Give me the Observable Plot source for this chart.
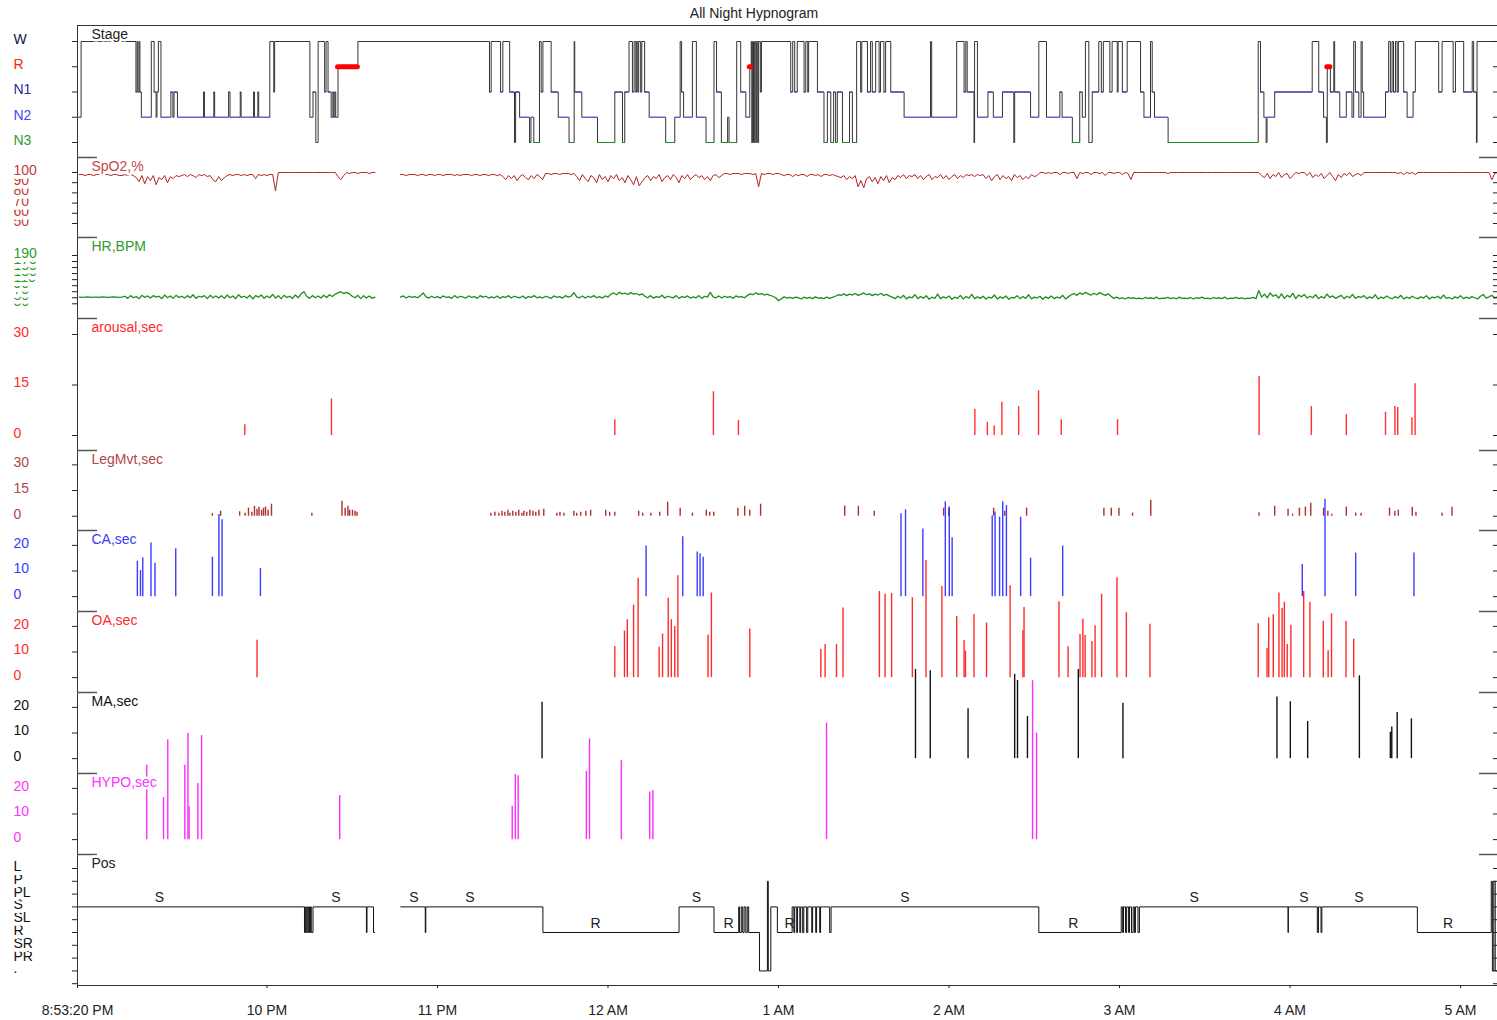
<!DOCTYPE html>
<html><head><meta charset="utf-8">
<script src="https://cdn.jsdelivr.net/npm/d3@7"></script>
<script src="https://cdn.jsdelivr.net/npm/@observablehq/plot@0.6"></script>
<style>
html,body{margin:0;padding:0;background:#fff;overflow:hidden;}
#chart{position:relative;width:1497px;height:1020px;font-family:"Liberation Sans",Arial,Helvetica,sans-serif;}
#title{position:absolute;top:5px;left:754px;transform:translateX(-50%);font-size:14px;color:#222;white-space:nowrap;line-height:16px;}
</style></head><body>
<div id="chart"><div id="title">All Night Hypnogram</div></div>
<script>
// ---------- DATA (time = minutes after 8:00 PM) ----------
const xTickTimes = [53 + 1/3, 120, 180, 240, 300, 360, 420, 480, 540];
const xTickLabels = ["8:53:20 PM","10 PM","11 PM","12 AM","1 AM","2 AM","3 AM","4 AM","5 AM"];

const stageNames = ["N3","N2","N1","R","W"];
const stageTimes = [
53.5,54.6,73.9,74.3,74.6,75.0,75.3,75.8,79.3,80.3,
81.0,81.3,81.8,82.7,86.2,86.9,87.3,88.5,97.7,98.0,
101.3,101.6,106.5,107.0,110.6,110.9,115.3,115.6,116.8,117.1,
121.0,122.4,122.7,135.1,136.2,137.2,138.0,140.3,140.8,141.5,
142.6,143.2,143.5,143.9,144.2,145.0,152.0,198.3,198.9,202.2,
203.0,205.4,207.1,207.5,208.9,212.4,212.9,213.9,215.9,216.5,
217.1,220.0,222.5,226.3,228.1,228.3,230.8,236.3,242.4,245.1,
245.9,247.4,248.6,249.2,249.8,250.1,250.5,250.8,251.5,251.9,
252.9,254.5,260.3,263.5,265.4,265.9,266.6,269.7,271.1,274.5,
277.3,278.2,279.9,282.1,282.6,285.3,286.7,288.5,289.9,290.4,
290.6,290.9,291.2,291.6,292.0,292.3,292.7,293.0,293.6,294.0,
304.3,305.0,305.7,306.6,309.0,309.6,310.3,310.6,313.7,316.0,
317.2,318.4,319.4,320.1,320.7,322.5,325.0,326.0,327.5,328.9,
329.3,331.3,332.4,333.0,334.2,335.4,335.9,337.1,337.7,339.5,
344.2,353.5,353.9,362.7,365.3,365.9,366.4,368.8,369.0,370.0,
373.7,375.6,378.8,382.8,383.1,388.7,391.6,394.3,399.0,399.8,
403.4,406.0,406.9,408.0,409.2,410.4,412.7,413.6,414.3,416.6,
417.4,419.2,419.5,421.0,422.7,427.4,428.6,430.9,431.5,432.3,
437.1,468.8,469.6,470.8,471.6,471.9,474.6,487.8,490.1,491.8,
492.8,493.1,494.2,495.4,495.7,497.5,499.8,501.8,502.4,503.0,
504.2,505.0,505.4,505.9,513.6,514.7,515.3,515.9,516.4,517.1,
517.7,518.1,520.0,521.2,523.3,524.1,532.3,533.5,537.4,538.2,
541.1,544.1,544.6,545.6,545.8,553.0];
const stageCodes = [
"N2","W","N1","W","N1","W","N1","N2","W","N1",
"N2","N1","W","N2","N1","N2","N1","N2","N1","N2",
"N1","N2","N1","N2","N1","N2","N1","N2","N1","N2",
"W","N1","W","N2","N1","N3","W","N1","W","N1",
"N2","N1","N2","N1","N2","R","W","N1","W","N1",
"W","N1","N3","N1","N2","N3","N2","N3","W","N1",
"W","N1","N2","N3","W","N1","N2","N3","N1","N3",
"N1","W","N1","W","N1","W","N1","W","N1","W",
"N1","N2","N3","N2","W","N1","N2","W","N2","N3",
"W","N1","N3","N2","N3","W","N1","N2","R","W",
"N3","W","N3","W","N3","W","N3","W","N1","W",
"N1","W","N1","W","N1","W","N1","W","N1","N3",
"N1","N3","N1","N3","N1","N3","N1","N3","W","N1",
"W","N1","W","N1","W","N1","W","N1","W","N1",
"N2","W","N2","W","N1","W","N1","N3","W","N2",
"N1","N2","N1","N3","N1","N2","W","N2","N1","N2",
"N3","N1","N2","W","N3","N1","W","N1","W","N1",
"W","N1","W","N1","W","N1","N2","W","N1","N2",
"N3","W","N1","N2","N3","N2","N1","W","N1","N2",
"N3","R","N1","W","N1","N2","N1","N2","W","N1",
"N2","W","N1","N2","N1","W","N1","W","N1","W",
"N1","W","N1","N2","N1","W","N1","W","N1","W",
"N1","W","N1","N3","W","W"];

// SpO2 (%), one value per minute
const spo2StartA = 54;
const spo2A = [98,98,97,98,98,97,98,98,97,98,98,97,98,98,97,97,98,97,98,97,
95,91,97,89,96,92,97,88,95,93,97,90,96,94,97,96,
97,98,96,98,97,95,98,97,98,96,97,
93,91,96,92,95,97,
98,97,98,98,97,98,97,98,98,
94,
98,97,98,97,98,98,
82,
100,100,100,100,100,100,100,100,100,100,100,100,100,100,100,100,100,100,100,100,100,
96,93,97,
100,99,100,100,99,100,100,100,99,100,100];
const spo2StartB = 167;
const spo2B = [98,98,97,98,98,98,97,98,98,97,
98,98,97,98,98,97,98,98,98,97,
98,97,98,98,98,97,98,98,97,98,
98,97,98,98,97,98,
96,93,97,94,97,92,96,98,95,93,97,94,98,96,93,
99,99,98,99,99,98,99,99,99,98,99,
96,92,98,94,91,97,95,90,98,93,96,91,97,94,98,92,95,90,97,93,
88,96,87,91,95,
97,92,96,94,98,91,95,97,93,98,95,
90,
97,94,98,93,96,98,95,97,93,96,92,97,98,95,97,
99,99,98,99,99,99,98,99,99,99,98,99,
86,
99,98,99,99,98,99,99,
98,97,98,98,96,98,97,98,98,96,98,98,97,98,96,98,98,97,98,97,96,
95,97,93,96,94,97,
86,92,85,94,
96,91,95,89,96,92,97,90,95,93,
97,95,98,94,97,96,98,
94,97,93,96,98,93,96,95,98,94,97,93,96,98,94,97,95,
98,97,98,96,98,97,98,
94,97,92,96,98,93,97,94,96,92,98,95,97,93,96,94,98,96,97,
100,100,99,100,99,100,100,98,100,100,99,100,100,
94,
100,99,100,100,98,100,100,99,100,97,100,100,99,100,100,98,100,99,
93,
100,100,100,100,100,100,100,100,100,100,100,100,99,100,100,100,100,100,100,100,100,100,100,100,100,100,100,100,100,100,100,100,100,100,100,100,100,100,100,100,100,100,100,100,100,
97,95,99,94,98,96,100,95,98,99,94,97,100,99,
100,100,
97,100,95,98,96,99,94,97,100,96,92,98,95,99,97,100,96,98,99,97,
100,100,100,100,100,100,100,100,100,100,100,100,
99,100,98,100,99,100,98,
100,100,100,100,100,100,100,100,100,100,100,100,100,100,100,100,100,100,100,100,100,100,100,100,100,100,
93,
99,100];

// Heart rate (BPM), one value per minute
const hrStartA = 54;
const hrA = [52,51,52,53,51,52,52,51,53,52,51,52,53,52,51,52,
55,48,57,50,54,47,58,51,56,49,57,52,55,47,59,50,56,48,58,51,55,49,57,50,60,48,55,52,57,47,58,50,56,49,
57,48,59,50,56,47,60,51,55,49,58,46,57,52,59,48,56,50,61,49,57,47,58,51,55,48,59,50,63,
70,
55,48,57,50,56,49,58,51,60,54,62,
66,70,64,68,63,
55,50,58,47,57,49,56,48,52];
const hrStartB = 167;
const hrB = [
52,56,49,55,51,54,50,57,66,53, 49,55,50,54,49,56,51,53,48,57,
50,55,52,49,56,51,54,48,57,52, 55,49,53,50,56,48,54,51,57,49,
55,52,50,56,48,54,51,57,50,53, 49,55,52,48,56,51,54,49,57,52,
55,67,53,50,56,49,55,51,57,50, 54,49,56,52,62,66,60,68,63,65,
61,67,62,64,59,63,55,50,57,49, 54,51,58,49,55,52,50,57,48,54,
51,56,49,53,50,57,48,55,52,68, 53,50,56,49,55,51,54,48,56,52,
54,50,57,63,60,66,61,64,59,62, 58,55,50,40,47,53,49,51,48,52,
50,46,52,48,51,47,53,49,50,47, 52,48,51,55,60,58,63,57,62,59,
64,58,61,66,60,63,57,62,59,64, 58,61,56,52,47,55,49,58,46,53,
50,60,47,54,49,57,45,52,48,62, 47,53,49,56,45,52,48,58,46,54,
49,61,47,53,48,55,46,52,49,59, 46,53,48,56,45,51,49,57,47,54,
48,60,46,52,49,55,45,53,48,56, 47,52,49,58,46,53,60,64,58,66,
61,68,63,59,65,60,67,62,58,63, 55,48,52,47,50,46,51,48,50,47,
49,46,51,48,50,47,52,46,49,48, 51,47,50,46,52,48,49,47,51,46,
50,48,52,47,49,46,51,48,50,47, 52,46,49,48,51,47,50,46,49,48,
51,47,74,52,62,50,66,55,60,49, 63,48,58,52,65,47,59,53,61,49,
55,50,60,47,54,49,62,51,56,48, 53,58,47,55,50,61,48,54,51,57,
47,53,49,60,46,52,48,56,50,47, 54,49,58,46,52,48,55,50,47,53,
49,57,46,52,50,55,47,59,48,51, 46,53,49,57,47,52,48,54,50,46,
55,61,49,53,58,50,52];

// Events (time in minutes, duration in seconds)
const arousalTimes = [112.2,142.7,242.4,277.1,285.9,369.1,373.5,375.9,378.6,384.5,391.5,399.5,419.3,469.1,487.5,499.8,513.6,516.9,517.9,522.9,524.0];
const arousalSecs = [3.2,10.8,4.7,13,4.5,7.8,3.9,2.8,9.9,8.6,13.3,4.7,4.7,17.5,8.6,6.2,6.9,8.6,8.3,5.3,15.4];

const legTimes = [100.8,103.7,110.4,112.3,113.5,114.7,115.6,116.5,117.2,118.1,118.8,119.5,120.4,121.6,135.8,
146.4,147.5,148.5,149.1,150.1,151.0,151.7,
198.8,200.2,201.6,202.7,203.7,204.8,205.5,206.5,207.6,208.6,209.7,210.4,211.4,212.5,213.6,214.6,215.7,217.4,
222.0,223.1,224.5,228.0,229.0,230.4,232.2,233.9,239.2,240.6,242.4,250.8,252.2,255.1,258.2,261.0,265.4,269.7,274.6,275.8,277.2,285.7,288.1,289.9,293.7,
323.3,328.1,333.7,358.1,359.9,375.7,379.6,387.3,414.5,417.1,419.8,424.6,431.0,
469.1,474.6,479.3,480.9,483.3,485.4,487.3,491.8,493.3,494.7,499.8,503.1,505.0,515.0,516.9,518.1,523.0,524.3,533.5,537.0];
const legSecs = [1.5,2.9,2.6,1.8,4.7,2.3,5.8,4.1,5.3,3.5,4.7,5.3,3.5,7.0,1.8,
8.8,4.7,5.8,3.5,3.5,2.9,2.3,
1.8,2.3,1.8,2.9,2.3,3.5,1.8,2.9,2.3,3.5,1.8,2.9,2.3,3.5,2.9,2.3,3.5,4.1,
1.8,2.3,1.8,2.9,1.8,2.3,2.9,3.5,3.5,2.3,2.3,2.9,1.8,1.8,2.3,8.2,4.7,1.8,3.5,2.3,2.3,4.7,5.8,3.5,7.0,
6.0,5.8,2.9,4.7,4.7,4.7,2.9,4.7,4.7,4.7,4.7,1.8,9.4,
2.0,5.8,4.1,1.2,4.7,5.3,7.6,4.7,2.9,1.2,5.3,1.8,1.8,4.7,2.9,3.5,5.3,2.3,1.8,5.3];

const caTimes = [74.4,75.5,76.3,79.2,80.6,87.9,100.8,103.1,104.2,117.7,253.4,266.3,271.4,272.4,273.5,343.1,344.7,350.8,358.7,360.1,361.1,375.2,376.2,377.8,378.9,380.2,385.2,388.7,400.0,484.3,492.3,503.1,523.6];
const caSecs = [13.8,10.2,15.1,20.9,13,18.7,15.4,32,30,11,19.8,23.4,17.4,16.7,15.4,32.3,33.9,26.4,37,35,23,31.5,33,31,37,35.5,31,15,19.7,12.5,38,17,17];

const oaTimes = [116.5,242.4,245.8,246.8,249.0,250.6,258.0,259.2,261.2,262.3,263.5,264.6,275.2,276.4,289.9,
314.9,316.4,320.4,322.7,335.5,337.5,339.8,347.1,351.9,357.5,362.7,365.3,365.8,368.8,373.2,381.5,386.0,386.4,398.7,401.9,406.1,407.1,407.9,410.3,411.4,413.7,419.1,422.4,430.7,
468.8,471.9,472.5,474.1,476.1,477.2,478.0,479.0,480.3,484.8,487.0,491.7,493.4,494.6,499.7,502.4];
const oaSecs = [14.6,12.1,18.2,22.6,28.3,38.8,11.9,17,31,22.6,19.9,39.7,16.6,33,19,
11,12.9,12.9,27.2,33.6,32.5,32.8,31.2,45.7,35.6,23.9,14.5,10.4,24.6,21.3,35.8,18.4,27.4,29.6,12,16.8,22.8,16.4,14.1,20.2,32.5,39,25.3,20.8,
21,11.4,23.4,24.5,33,27,29.4,12.9,20.4,33.6,29.4,22,10.5,24.9,22,15];

const maTimes = [216.8,348.2,353.4,366.7,383.1,384.1,387.6,405.5,421.2,475.4,480.1,486.2,504.4,515.3,515.8,517.7,522.7];
const maSecs = [22,34.8,34.3,19.5,32.9,30.5,16.4,34.8,21.6,24,22.2,14.5,32.3,10.3,12.3,18,15.5];

const hypoTimes = [77.7,83.6,85.1,91.1,92.2,92.6,95.7,97.0,145.6,206.3,207.4,208.4,232.4,233.5,244.7,254.7,255.8,316.9,389.4,390.8];
const hypoSecs = [29,16.4,39,29,41.4,12.8,21.9,40.6,17.2,13,25.4,24.9,26.6,39.3,30.8,18.6,19.2,45.5,62,41.5];

// Body position
const posNames = ["L","P","PL","S","SL","R","SR","PR","."];
const posTimesA = [53.5,133.2,133.5,133.8,134.1,134.4,134.7,135.0,135.3,135.6,136.2,155.0,155.2,157.5,158.0];
const posCodesA = ["S","R","S","R","S","R","S","R","S","R","S","R","S","R","R"];
const posTimesB = [167.1,175.7,175.9,217.1,265.0,277.3,286.0,286.3,286.9,287.4,
287.9,288.5,289.0,289.5,293.3,296.1,296.4,297.3,299.6,304.8,
305.4,305.7,306.4,306.7,307.5,307.8,308.5,308.9,309.9,310.3,
311.7,312.0,313.1,313.4,314.5,314.8,318.0,318.5,391.6,420.6,
421.1,421.4,422.1,422.5,423.2,423.5,424.2,424.8,425.3,425.6,
426.5,427.0,479.3,479.4,489.6,490.0,490.9,491.2,524.8,550.8,
551.2,551.7,552.2,553.0];
const posCodesB = ["S","R","S","R","S","R","S","R","S","R",
"S","R","S","R",".","P",".","S","R","S",
"R","S","R","S","R","S","R","S","R","S",
"R","S","R","S","R","S","R","S","R","S",
"R","S","R","S","R","S","R","S","R","S",
"R","S","R","S","R","S","R","S","R","P",
".","P",".","."];
const posLabelTimes = [82.2,144.3,171.7,191.4,235.6,271.1,282.4,303.9,344.5,403.7,446.3,484.9,504.2,535.6];
const posLabelTexts = ["S","S","S","S","R","S","R","R","S","R","S","S","S","R"];

// ---------- RENDER ----------
const chart = document.getElementById("chart");
const FONT = '"Liberation Sans", Arial, Helvetica, sans-serif';
const X_DOMAIN = [53 + 1/3, 553];

const series = (start, vals, seg) => vals.map((v, i) => ({t: start + i, v, seg}));
const events = (times, secs) => times.map((t, i) => ({t, v: secs[i]}));

function axisTicks(vals) {
  return [
    Plot.axisY(vals, {anchor: "left", tickSize: 5, fill: "none", stroke: "#222", label: null}),
    Plot.axisY(vals, {anchor: "right", tickSize: 5, dx: -5, fill: "none", stroke: "#222", label: null})
  ];
}
function boundary(topVal) {
  return [
    Plot.axisY([topVal], {anchor: "left", tickSize: 20, dx: 20, fill: "none", stroke: "#555", strokeWidth: 1.5, label: null}),
    Plot.axisY([topVal], {anchor: "right", tickSize: 19, dx: -19, fill: "none", stroke: "#555", strokeWidth: 1.5, label: null})
  ];
}
function sideLabels(vals, texts, colors) {
  return Plot.text(vals, {
    y: d => d, text: (d, i) => texts[i],
    fill: Array.isArray(colors) ? (d, i) => colors[i] : colors,
    frameAnchor: "left", dx: -64, dy: -2, textAnchor: "start",
    fontSize: 14, fontFamily: FONT, stroke: "white", strokeWidth: 8, paintOrder: "stroke"
  });
}
function title(txt, color) {
  return Plot.text([txt], {
    text: d => d, frameAnchor: "top-left", lineAnchor: "middle", dx: 14, dy: 9, textAnchor: "start",
    fill: color, fontSize: 14, fontFamily: FONT, stroke: "white", strokeWidth: 5, paintOrder: "stroke"
  });
}
function panel(top, height, yDomain, marks, marginBottom = 0) {
  const svg = Plot.plot({
    width: 1497, height: height + marginBottom,
    marginLeft: 77, marginRight: 0, marginTop: 0, marginBottom,
    x: {domain: X_DOMAIN, axis: null, label: null},
    y: {domain: yDomain, axis: null, label: null},
    color: {type: "identity"},
    style: {position: "absolute", left: "0px", top: top + "px", overflow: "visible",
            background: "transparent", fontFamily: FONT, fontSize: "14px", color: "#222"},
    marks
  });
  chart.appendChild(svg);
}
const leftLine = () => Plot.ruleX([X_DOMAIN[0]], {stroke: "#333"});
const bars = (data, color) => Plot.ruleX(data, {x: "t", y1: 0, y2: "v", stroke: color, strokeWidth: 1.4});

// Stage
const stageLevel = {N3: 0, N2: 1, N1: 2, R: 3, W: 4};
const stageColor = {N1: "#3434c4", N2: "#6464ff", N3: "#1f8c1f"};
const stagePts = stageTimes.map((t, i) => ({t, s: stageCodes[i], lvl: stageLevel[stageCodes[i]]}));
const stageSegs = stagePts.slice(0, -1).map((d, i) => ({t1: d.t, t2: stagePts[i + 1].t, s: d.s, lvl: d.lvl}));
const stageDom = [-0.594, 4.634];
panel(25, 132, stageDom, [
  Plot.ruleY([stageDom[1]], {stroke: "#333"}),
  leftLine(),
  Plot.line(stagePts, {x: "t", y: "lvl", curve: "step-after", stroke: "#333", strokeWidth: 1}),
  Plot.ruleY(stageSegs.filter(d => stageColor[d.s]), {x1: "t1", x2: "t2", y: "lvl", stroke: d => stageColor[d.s], strokeWidth: 1}),
  Plot.ruleY(stageSegs.filter(d => d.s === "R"), {x1: "t1", x2: "t2", y: "lvl", stroke: "#ff0000", strokeWidth: 5, strokeLinecap: "round"}),
  ...axisTicks([0, 1, 2, 3, 4]),
  sideLabels([0, 1, 2, 3, 4], stageNames, ["#2e9a2e", "#4646ff", "#2a2aa0", "#ff2020", "#141440"]),
  title("Stage", "#222")
]);

// SpO2
const spo2Dom = [36.27, 114.7];
const spo2Ticks = [50, 60, 70, 80, 90, 100];
panel(157, 80, spo2Dom, [
  leftLine(),
  Plot.line([...series(spo2StartA, spo2A, "a"), ...series(spo2StartB, spo2B, "b")], {x: "t", y: "v", z: "seg", stroke: "#b22222", strokeWidth: 1}),
  ...axisTicks(spo2Ticks), ...boundary(spo2Dom[1]),
  sideLabels(spo2Ticks, spo2Ticks.map(String), "#c43c3c"),
  title("SpO2,%", "#c84848")
]);

// HR
const hrDom = [-18.7, 249.6];
const hrTicks = [30, 50, 70, 90, 110, 130, 150, 170, 190];
panel(237, 81, hrDom, [
  leftLine(),
  Plot.line([...series(hrStartA, hrA, "a"), ...series(hrStartB, hrB, "b")], {x: "t", y: "v", z: "seg", stroke: "#1e8c1e", strokeWidth: 1.3}),
  ...axisTicks(hrTicks), ...boundary(hrDom[1]),
  sideLabels(hrTicks, hrTicks.map(String), "#2e9a2e"),
  title("HR,BPM", "#2e9a2e")
]);

// arousal
const arDom = [-4.455, 34.75];
panel(318, 132, arDom, [
  leftLine(),
  bars(events(arousalTimes, arousalSecs), "#ff3030"),
  ...axisTicks([0, 15, 30]), ...boundary(arDom[1]),
  sideLabels([0, 15, 30], ["0", "15", "30"], "#ff2a2a"),
  title("arousal,sec", "#ff2a2a")
]);

// LegMvt
const legDom = [-8.36, 38.42];
panel(450, 80, legDom, [
  leftLine(),
  bars(events(legTimes, legSecs), "#a83030"),
  ...axisTicks([0, 15, 30]), ...boundary(legDom[1]),
  sideLabels([0, 15, 30], ["0", "15", "30"], "#b04848"),
  title("LegMvt,sec", "#b04848")
]);

// CA, OA, MA, HYPO
const evDom = [-5.8, 25.8];
const evPanels = [
  [530, "CA,sec", caTimes, caSecs, "#3c3cff", "#3838ff"],
  [611, "OA,sec", oaTimes, oaSecs, "#ff2b2b", "#ff2a2a"],
  [692, "MA,sec", maTimes, maSecs, "#111111", "#111111"],
  [773, "HYPO,sec", hypoTimes, hypoSecs, "#ff2bff", "#ff30ff"]
];
for (const [top, name, times, secs, barColor, labColor] of evPanels) {
  panel(top, 81, evDom, [
    leftLine(),
    bars(events(times, secs), barColor),
    ...axisTicks([0, 10, 20]), ...boundary(evDom[1]),
    sideLabels([0, 10, 20], ["0", "10", "20"], labColor),
    title(name, labColor)
  ]);
}

// Pos
const posDom = [9.14, -1.094];
const posData = [
  ...posTimesA.map((t, i) => ({t, lvl: posNames.indexOf(posCodesA[i]), seg: "a"})),
  ...posTimesB.map((t, i) => ({t, lvl: posNames.indexOf(posCodesB[i]), seg: "b"}))
];
const posLabelData = posLabelTimes.map((t, i) => ({t, s: posLabelTexts[i], lvl: posNames.indexOf(posLabelTexts[i])}));
const posLvls = posNames.map((d, i) => i);
panel(854, 131, posDom, [
  leftLine(),
  Plot.ruleY([posDom[0]], {stroke: "#333"}),
  Plot.line(posData, {x: "t", y: "lvl", z: "seg", curve: "step-after", stroke: "#111", strokeWidth: 1}),
  Plot.text(posLabelData, {x: "t", y: "lvl", text: "s", dy: -9, fill: "#222", fontSize: 14, fontFamily: FONT}),
  ...axisTicks([...posLvls, 9]), ...boundary(posDom[1]),
  sideLabels(posLvls.slice().reverse(), posNames.slice().reverse(), "#111"),
  title("Pos", "#222"),
  Plot.axisX(xTickTimes, {anchor: "bottom", tickSize: 3, tickPadding: 17,
    tickFormat: d => xTickLabels[xTickTimes.indexOf(d)], label: null,
    fontSize: 14, fontFamily: FONT, stroke: "#222", fill: "#222"})
], 35);
</script>
</body></html>
